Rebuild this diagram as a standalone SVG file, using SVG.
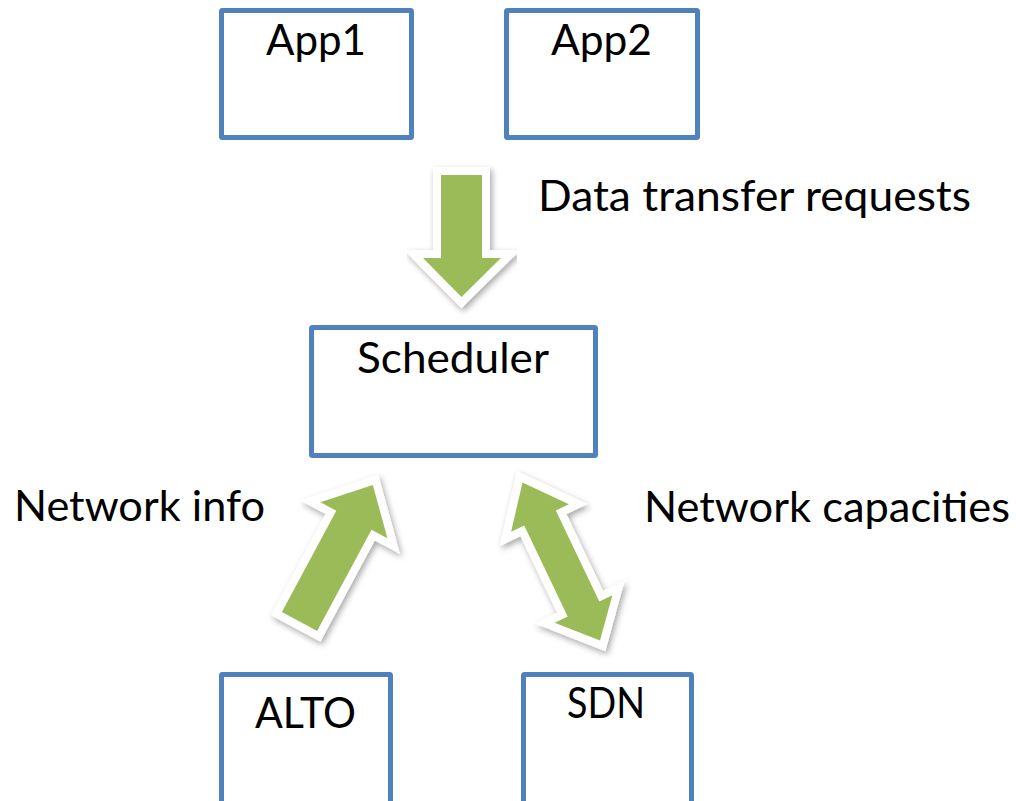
<svg xmlns="http://www.w3.org/2000/svg" width="1016" height="801" viewBox="0 0 1016 801">
  <defs>
    <filter id="sh" x="-20%" y="-20%" width="140%" height="140%">
      <feDropShadow dx="2" dy="3" stdDeviation="3" flood-color="#000" flood-opacity="0.35"/>
    </filter>
    <style>
      .box { fill: #ffffff; stroke: #4F81BD; stroke-width: 5; }
      .lbl { font-family: Lato, "Open Sans", "Liberation Sans", sans-serif; font-size: 42px; fill: #000000; }
      .arw-out { fill: #ffffff; stroke: #ffffff; stroke-width: 16; stroke-linejoin: miter; stroke-miterlimit: 10; filter: url(#sh); }
      .arw { fill: #9BBB59; stroke: none; }
    </style>
  </defs>
  <rect width="1016" height="801" fill="#ffffff"/>

  <g id="connectors">
    <g id="arrow-requests">
      <polygon class="arw-out" points="441,175 482,175 482,258 501,258 461.5,297 423,258 441,258"/>
      <polygon class="arw" points="441,175 482,175 482,258 501,258 461.5,297 423,258 441,258"/>
    </g>
    <g id="arrow-netinfo">
      <polygon class="arw-out" points="281.9,612 336.3,510.7 320.4,502.2 372.8,484.9 387.4,538.2 371.5,529.7 317.1,631"/>
      <polygon class="arw" points="281.9,612 336.3,510.7 320.4,502.2 372.8,484.9 387.4,538.2 371.5,529.7 317.1,631"/>
    </g>
    <g id="arrow-capacities">
      <polygon class="arw-out" points="522.5,482.5 568.9,504.2 555.8,510.5 599.3,601.5 612.4,595.2 600,640.5 554.6,622.8 567.7,616.5 524.2,525.5 511.1,531.8"/>
      <polygon class="arw" points="522.5,482.5 568.9,504.2 555.8,510.5 599.3,601.5 612.4,595.2 600,640.5 554.6,622.8 567.7,616.5 524.2,525.5 511.1,531.8"/>
    </g>
  </g>

  <g id="app1">
    <rect class="box" x="221.5" y="10.5" width="190" height="127" rx="1"/>
    <text class="lbl" x="266" y="55" textLength="100" lengthAdjust="spacingAndGlyphs">App1</text>
  </g>
  <g id="app2">
    <rect class="box" x="506.5" y="10.5" width="191" height="127" rx="1"/>
    <text class="lbl" x="551" y="55" textLength="101" lengthAdjust="spacingAndGlyphs">App2</text>
  </g>
  <g id="scheduler">
    <rect class="box" x="311.5" y="327.5" width="284" height="128" rx="1"/>
    <text class="lbl" x="357" y="373" textLength="192" lengthAdjust="spacingAndGlyphs">Scheduler</text>
  </g>
  <g id="alto">
    <rect class="box" x="221.5" y="674.5" width="169" height="140" rx="1"/>
    <text class="lbl" x="255" y="728" textLength="101" lengthAdjust="spacingAndGlyphs">ALTO</text>
  </g>
  <g id="sdn">
    <rect class="box" x="523.5" y="674.5" width="168" height="140" rx="1"/>
    <text class="lbl" x="567" y="718" textLength="78" lengthAdjust="spacingAndGlyphs">SDN</text>
  </g>

  <g id="labels">
    <text class="lbl" x="538" y="211" textLength="433" lengthAdjust="spacingAndGlyphs">Data transfer requests</text>
    <text class="lbl" x="14" y="521" textLength="251" lengthAdjust="spacingAndGlyphs">Network info</text>
    <text class="lbl" x="644" y="522" textLength="366" lengthAdjust="spacingAndGlyphs">Network capacities</text>
  </g>
</svg>
